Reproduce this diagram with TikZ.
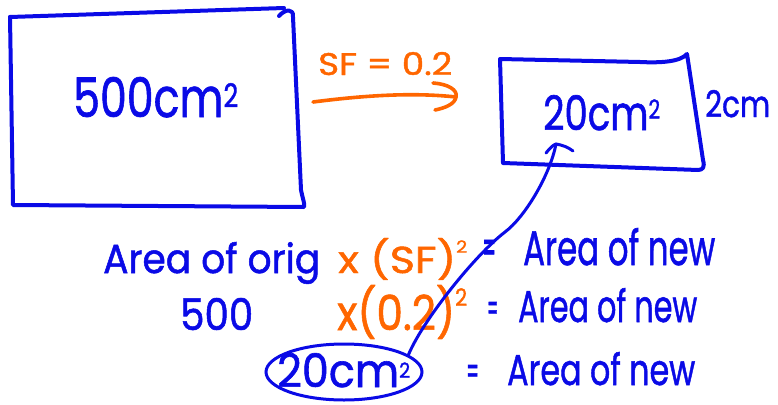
\documentclass[tikz,border=0pt]{standalone}
\usepackage{fontspec}
\usepackage{graphicx}
\setmainfont{Poppins}
\newfontfamily\handfont{Poppins}[FakeBold=1.3]
\usetikzlibrary{shapes.geometric}
\definecolor{hblue}{RGB}{10,10,230}
\definecolor{horange}{RGB}{255,102,0}
\newcommand\fitbox[3]{\resizebox{#1pt}{#2pt}{\handfont #3}}
\newcommand\pw[2]{\raisebox{#1em}{\scalebox{#2}{2}}}
\tikzset{
  hand/.style={line width=4pt, line cap=round, line join=round},
  bt/.style={text=hblue, inner sep=0pt, anchor=base west},
  ot/.style={text=horange, inner sep=0pt, anchor=base west},
}
\begin{document}
\begin{tikzpicture}[x=1pt,y=-1pt]
\useasboundingbox (0,0) rectangle (778,404);
% big rectangle
\draw[hand, hblue] (10,17) -- (284,8);
\draw[hand, hblue] (279,16) .. controls (285,9) and (294,8) .. (293,17) -- (301,190) .. controls (303,200) and (305,204) .. (304,207) -- (13,205) -- (10,17);
\node[bt] (big) at (73,117) {\fitbox{165}{40}{500cm\pw{0.18}{0.6}}};
% orange arrow and SF
\node[ot] (sf) at (318,75) {\fitbox{134}{23}{SF = 0.2}};
\coordinate (oa) at (313,102);
\coordinate (ob) at (456,97);
\draw[hand, horange, line width=3.6pt] (oa) .. controls (360,96) and (410,92) .. (ob);
\draw[hand, horange, line width=3.6pt] (433,83) .. controls (448,84) and (458,90) .. (ob) .. controls (455,104) and (445,108) .. (435,110);
% small rectangle
\draw[hand, hblue] (503,163) -- (500,59) -- (640,62) .. controls (660,63) and (680,62) .. (687,54) -- (703,160) .. controls (705,167) and (703,170) .. (698,170) -- (503,163);
\node[bt] (small) at (543,130) {\fitbox{117}{35}{20cm\pw{0.24}{0.55}}};
\node[bt] (side) at (705,117) {\fitbox{65}{27}{2cm}};
% equations
\node[bt] (r1a) at (103,273) {\fitbox{217}{31}{Area of orig}};
\node[ot] (r1b) at (338,273) {\fitbox{129}{35}{x (SF)\pw{0.54}{0.45}}};
\node[bt] (r1c) at (482,265) {\fitbox{14}{25}{=}};
\node[bt] (r1d) at (523,265) {\fitbox{192}{37}{Area of new}};
\node[bt] (r2a) at (180,330) {\fitbox{73}{32}{500}};
\node[ot] (r2b) at (337,330) {\fitbox{130}{45}{x(0.2)\pw{0.5}{0.5}}};
\node[bt] (r2c) at (487,322) {\fitbox{11}{20}{=}};
\node[bt] (r2d) at (518,322) {\fitbox{179}{34}{Area of new}};
\node[bt] (r3a) at (277,387) {\fitbox{133}{34}{20cm\pw{0.2}{0.45}}};
\node[bt] (r3c) at (466,385) {\fitbox{13}{20}{=}};
\node[bt] (r3d) at (507,385) {\fitbox{188}{33}{Area of new}};
% ellipse and connector
\node[ellipse, draw=hblue, line width=3pt, minimum width=156pt, minimum height=56pt, inner sep=0pt] (ell) at (344,372) {};
\coordinate (tip) at (556,144);
\coordinate (mid) at (505,232);
\draw[hblue, line width=3pt, line cap=round] (ell.15) .. controls (423,320) and (475,255) .. (mid) .. controls (525,217) and (550,175) .. (tip);
\draw[hblue, line width=3pt, line cap=round, line join=round] (546,153) .. controls (550,148) and (553,145) .. (tip) .. controls (562,145) and (568,147) .. (573,151);
\end{tikzpicture}
\end{document}
